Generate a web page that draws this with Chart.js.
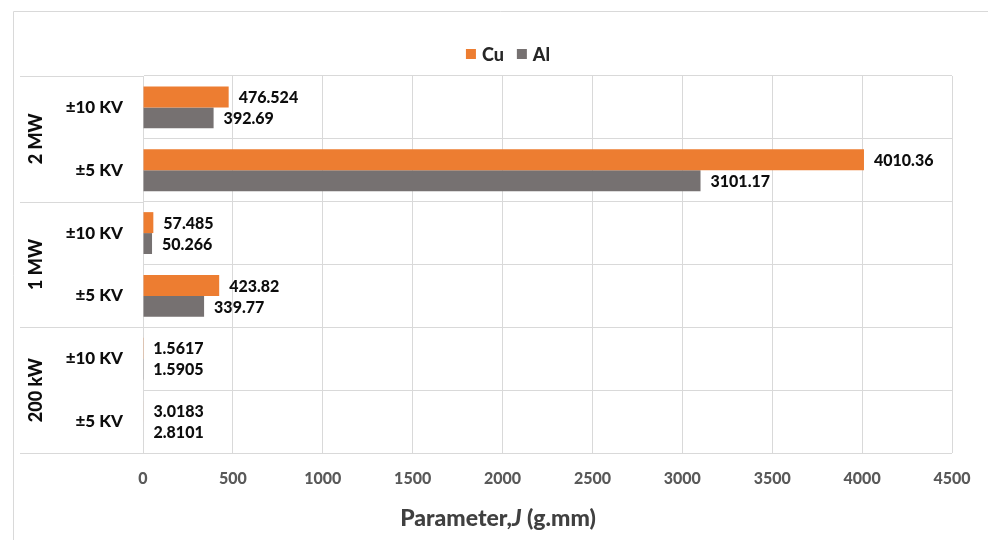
<!DOCTYPE html>
<html>
<head>
<meta charset="utf-8">
<script src="https://cdn.jsdelivr.net/npm/chart.js@4"></script>
<style>
  html, body { margin: 0; padding: 0; background: #ffffff; }
  canvas { display: block; }
</style>
</head>
<body>
<canvas id="chart" width="988" height="540"></canvas>
<script>
// Categories (top to bottom) and their rating groups
const voltageLabels = ['±10 KV', '±5 KV', '±10 KV', '±5 KV', '±10 KV', '±5 KV'];
const ratingGroups = ['2 MW', '1 MW', '200 kW'];
const seriesNames = ['Cu', 'Al'];

// Parameter J (g.mm) per conductor material
const cuValues = [476.524, 4010.36, 57.485, 423.82, 1.5617, 3.0183];
const alValues = [392.69, 3101.17, 50.266, 339.77, 1.5905, 2.8101];

// Value axis range and step
const axisMin = 0;
const axisMax = 4500;
const axisStep = 500;

const FONT = 'Lato, "Open Sans", sans-serif';
const W = '900';
const ORANGE = '#ED7D31';
const GREY = '#767171';
const GRID = '#D9D9D9';

const decorations = {
  id: 'decorations',
  beforeDraw(chart) {
    const { ctx, chartArea: a, scales } = chart;
    ctx.save();
    // outer frame
    ctx.strokeStyle = GRID;
    ctx.lineWidth = 1;
    ctx.beginPath();
    ctx.moveTo(13.5, 540);
    ctx.lineTo(13.5, 11.5);
    ctx.lineTo(988, 11.5);
    ctx.stroke();
    // group separators extending into the label column
    const y = scales.y;
    const per = voltageLabels.length / ratingGroups.length;
    ctx.beginPath();
    for (let g = 0; g <= ratingGroups.length; g++) {
      const py = Math.round(y.getPixelForValue(g * per - 0.5)) + 0.5;
      ctx.moveTo(20, py);
      ctx.lineTo(a.left, py);
    }
    ctx.stroke();
    ctx.restore();
  },
  afterDatasetsDraw(chart) {
    const { ctx, scales } = chart;
    ctx.save();
    // value labels at bar ends
    ctx.font = W + ' 16px ' + FONT;
    ctx.fillStyle = '#0D0D0D';
    ctx.textAlign = 'left';
    ctx.textBaseline = 'middle';
    chart.data.datasets.forEach((ds, di) => {
      const meta = chart.getDatasetMeta(di);
      meta.data.forEach((el, i) => {
        ctx.fillText(String(ds.data[i]), el.x + 10, el.y + 1);
      });
    });

    // rotated group labels
    const y = scales.y;
    const per = voltageLabels.length / ratingGroups.length;
    ctx.font = W + ' 18px ' + FONT;
    ctx.textAlign = 'center';
    ctx.textBaseline = 'middle';
    ratingGroups.forEach((g, gi) => {
      const top = y.getPixelForValue(gi * per - 0.5);
      const bot = y.getPixelForValue((gi + 1) * per - 0.5);
      ctx.save();
      ctx.translate(36, (top + bot) / 2);
      ctx.rotate(-Math.PI / 2);
      ctx.fillText(g, 0, 0);
      ctx.restore();
    });

    // legend
    const colors = [ORANGE, GREY];
    ctx.font = W + ' 18px ' + FONT;
    ctx.textAlign = 'left';
    ctx.textBaseline = 'middle';
    const box = 10, gapBox = 6, gapItem = 13;
    const widths = seriesNames.map(n => box + gapBox + ctx.measureText(n).width);
    const total = widths.reduce((s, w) => s + w, 0) + gapItem * (seriesNames.length - 1);
    let lx = 508 - total / 2;
    const ly = 54;
    seriesNames.forEach((n, i) => {
      ctx.fillStyle = colors[i];
      ctx.fillRect(lx, ly - box / 2, box, box);
      ctx.fillStyle = '#262626';
      ctx.fillText(n, lx + box + gapBox, ly + 1);
      lx += widths[i] + gapItem;
    });

    // axis title with italic J
    const parts = [
      { t: 'Parameter,', f: W + ' 23px ' + FONT },
      { t: 'J', f: 'italic ' + W + ' 23px ' + FONT },
      { t: ' (g.mm)', f: W + ' 23px ' + FONT }
    ];
    let tw = 0;
    parts.forEach(p => { ctx.font = p.f; p.w = ctx.measureText(p.t).width; tw += p.w; });
    let tx = 498 - tw / 2;
    ctx.fillStyle = '#404040';
    parts.forEach(p => { ctx.font = p.f; ctx.fillText(p.t, tx, 519); tx += p.w; });
    ctx.restore();
  }
};

new Chart(document.getElementById('chart'), {
  type: 'bar',
  data: {
    labels: voltageLabels,
    datasets: [
      { label: seriesNames[0], data: cuValues, backgroundColor: ORANGE },
      { label: seriesNames[1], data: alValues, backgroundColor: GREY }
    ]
  },
  options: {
    indexAxis: 'y',
    responsive: false,
    animation: false,
    datasets: { bar: { categoryPercentage: 2 / 3, barPercentage: 1 } },
    layout: { padding: { top: 76, right: 36, left: 0, bottom: 0 } },
    plugins: { legend: { display: false }, tooltip: { enabled: false } },
    scales: {
      x: {
        min: axisMin, max: axisMax,
        ticks: {
          stepSize: axisStep, color: '#595959', padding: 16,
          font: { family: FONT, weight: W, size: 16 },
          callback: v => String(v)
        },
        grid: { color: GRID, drawTicks: false },
        border: { display: false },
        afterFit(s) { s.height = 87; }
      },
      y: {
        ticks: { color: '#0D0D0D', font: { family: FONT, weight: W, size: 17 }, padding: 20 },
        grid: { color: GRID, drawTicks: false, offset: true },
        border: { color: GRID },
        afterFit(s) { s.width = 143; }
      }
    }
  },
  plugins: [decorations]
});
</script>
</body>
</html>
